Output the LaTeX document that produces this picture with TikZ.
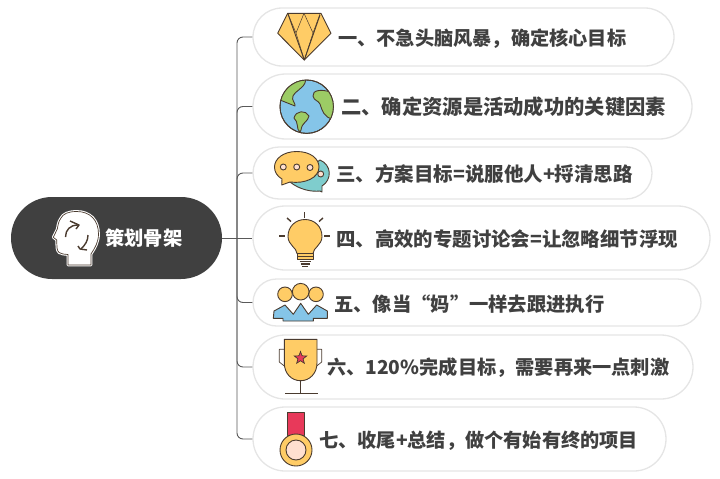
\documentclass[tikz,border=0pt]{standalone}
\usepackage{fontspec}
\setmainfont{Noto Sans CJK SC}
\usetikzlibrary{shapes.misc,shapes.geometric}
\definecolor{ink}{HTML}{4A3B2F}
\definecolor{gold}{HTML}{FFCC66}
\definecolor{sky}{HTML}{85C5E8}
\definecolor{leaf}{HTML}{9CCC65}
\definecolor{teal}{HTML}{7FCDCD}
\definecolor{rose}{HTML}{E8395A}
\definecolor{peach}{HTML}{FFE0D0}
\newcommand{\capsize}[1]{\fontsize{#1}{#1}\selectfont\bfseries}
\newcommand{\headpath}{(76.7,211.5) .. controls (68,211.5) and (63,214) .. (61,218) .. controls (58,222) and (58,226) .. (57.3,229) -- (53.3,237.3) -- (56.7,240) -- (57,248) .. controls (57.5,252) and (60,254) .. (63,254) -- (68,254.5) -- (68,265) -- (91,265) -- (91,254) .. controls (95,248) and (98.5,242) .. (98.5,234) .. controls (98.5,220) and (90,211.5) .. (76.7,211.5) -- cycle}
\begin{document}
\begin{tikzpicture}[x=1pt,y=-1pt]
\tikzstyle{pill}=[rounded rectangle, draw=black!10, line width=1.3pt, fill=white, inner sep=0pt]
\tikzstyle{caption}=[anchor=west, inner sep=0pt, text=black!75]
\tikzstyle{link}=[draw=black!65, line width=.9pt, rounded corners=6pt]
\tikzstyle{icon}=[draw=ink, line width=.9pt, line join=round]
\useasboundingbox (0,0) rectangle (720,479);
\node (root) at (116.5,238) [rounded rectangle, fill=black!75, minimum width=211pt, minimum height=82pt, inner sep=0pt] {};
\node (rootlabel) at (105,238) [anchor=west, inner sep=0pt, font=\capsize{19.3}, text=white] {策划骨架};
\node (v1) at (463.5,37) [pill, minimum width=421pt, minimum height=58pt] {};
\node (v2) at (472.5,106.5) [pill, minimum width=439pt, minimum height=65pt] {};
\node (v3) at (452.5,173) [pill, minimum width=399pt, minimum height=52pt] {};
\node (v4) at (481.5,238) [pill, minimum width=457pt, minimum height=64pt] {};
\node (v5) at (477,302.5) [pill, minimum width=448pt, minimum height=47pt] {};
\node (v6) at (473,367) [pill, minimum width=440pt, minimum height=64pt] {};
\node (v7) at (459.5,439) [pill, minimum width=413pt, minimum height=64pt] {};
\node (t1) at (338,38.5) [caption, font=\capsize{19.2}] {一、不急头脑风暴，确定核心目标};
\node (t2) at (341,106.5) [caption, font=\capsize{20.3}] {二、确定资源是活动成功的关键因素};
\node (t3) at (336,174) [caption, font=\capsize{19.5}] {三、方案目标=说服他人+捋清思路};
\node (t4) at (336,239.5) [caption, font=\capsize{19.4}] {四、高效的专题讨论会=让忽略细节浮现};
\node (t5) at (334,304) [caption, font=\capsize{19.3}] {五、像当“妈”一样去跟进执行};
\node (t6) at (327,368) [caption, font=\capsize{19.2}] {六、120\%完成目标，需要再来一点刺激};
\node (t7) at (319,441) [caption, font=\capsize{19.2}] {七、收尾+总结，做个有始有终的项目};
\coordinate (spine) at (237,238);
\draw [link] (root.east) -- (spine);
\draw [link] (spine) |- (v1.west);
\draw [link] (spine) |- (v2.west);
\draw [link] (spine) |- (v3.west);
\draw [link] (spine) -- (v4.west);
\draw [link] (spine) |- (v5.west);
\draw [link] (spine) |- (v6.west);
\draw [link] (spine) |- (v7.west);
% head
\draw [fill=white, draw=white, line width=2.8pt, line join=round] \headpath;
\draw [icon, fill=white, line width=.7pt] \headpath;
\draw [icon, line width=1.4pt] (65.5,237) .. controls (65.5,230) and (70,225) .. (78,225);
\draw [icon, line width=1.4pt] (70,221) -- (79,225) -- (76,229);
\draw [icon, line width=1.4pt] (88,235) .. controls (88,241) and (85,245) .. (81,249);
\draw [icon, line width=1.4pt] (78,246) -- (80,249) -- (87,250);
% diamond
\draw [icon, fill=gold] (287.7,13.3) -- (321,13.3) -- (331,33.3) -- (304.3,60) -- (277.7,33.3) -- cycle;
\draw [icon] (288,14) -- (304.3,60) -- (320,15);
\draw [icon, line width=.5pt] (288,14) -- (296,33) -- (304,13.3) -- (313,33) -- (320,14);
\draw [icon, line width=.5pt] (296,33) -- (304.3,60) -- (313,33);
% globe
\draw [icon, fill=sky] (306.7,106.7) circle (26.7);
\begin{scope}
\clip (306.7,106.7) circle (26.7);
\draw [icon, fill=leaf] (305,78) .. controls (308,86) and (296,90) .. (293,96) .. controls (291,100) and (296,104) .. (295,106) -- (280,100) -- (285,80) -- cycle;
\draw [icon, fill=leaf] (313,96) .. controls (312,90) and (322,89) .. (330,92) -- (338,110) -- (333,119) .. controls (324,118) and (322,110) .. (320,104) .. controls (318,100) and (314,101) .. (313,96) -- cycle;
\draw [icon, fill=leaf] (294,118) .. controls (296,110) and (306,110) .. (309,116) .. controls (308,122) and (302,122) .. (301,130) -- (300,132) .. controls (296,130) and (299,122) .. (294,118) -- cycle;
\end{scope}
\draw [icon] (306.7,106.7) circle (26.7);
% chat
\draw [icon, fill=teal] (290,182) .. controls (300,190) and (312,192) .. (320,191) -- (322,192) -- (322,186) .. controls (332,180) and (332,165) .. (320,160) -- cycle;
\draw [icon, fill=gold] (296.7,151.5) .. controls (311,151.5) and (319,159) .. (319,167) .. controls (319,178) and (305,184) .. (290,182) -- (281.7,185) -- (282,179) .. controls (277,176) and (274.5,172) .. (274.5,167) .. controls (274.5,159) and (283,151.5) .. (296.7,151.5) -- cycle;
\draw [icon, fill=peach] (283.3,167) circle (3);
\draw [icon, fill=peach] (296.7,167) circle (3);
\draw [icon, fill=peach] (310,167.5) circle (3);
\draw [icon, fill=peach] (320.7,174) circle (3);
% bulb
\draw [icon, fill=gold] (297,253.5) .. controls (297,248) and (288,245) .. (288,236.5) .. controls (288,226) and (296,219.5) .. (305,219.5) .. controls (314,219.5) and (322,226) .. (322,236.5) .. controls (322,245) and (313,248) .. (313,253.5) -- cycle;
\draw [icon, fill=gold] (297,253.5) rectangle (313,259.5);
\draw [icon] (297,256.5) -- (313,256.5);
\draw [icon, line width=1.1pt] (299.5,261.5) -- (310.5,261.5);
\draw [icon, line width=1.1pt] (300.5,264) -- (309.5,264);
\draw [icon, line width=1.1pt] (302,266.5) -- (308,266.5);
\draw [icon, line width=1.4pt] (304.5,212) -- (304.5,217.5);
\draw [icon, line width=1.4pt] (287,218) -- (291,221.5);
\draw [icon, line width=1.4pt] (323,218) -- (319,221.5);
\draw [icon, line width=1.4pt] (279,236) -- (285,236);
\draw [icon, line width=1.4pt] (324,236) -- (330,236);
% team
\draw [icon, fill=sky] (273.3,318.3) -- (274,311) -- (285,305) -- (293.3,314.3) -- (300.7,303.3) -- (308.3,314.3) -- (316.7,305) -- (327.3,311) -- (327.3,318.3) -- (313.3,318.3) -- (313.3,321) -- (283,321) -- (283,318.3) -- cycle;
\draw [icon, fill=gold] (285,294.3) circle (7.3);
\draw [icon, fill=gold] (316,294.3) circle (7.3);
\draw [icon, fill=gold] (300.7,291.7) circle (8.3);
% trophy
\draw [icon, line width=.7pt] (284.3,349.3) -- (279.3,349.3) -- (279.3,362) -- (288,369);
\draw [icon, line width=.7pt] (317,349.3) -- (321.7,349.3) -- (321.7,362) -- (313,369);
\draw [icon, fill=gold] (284.3,339.3) -- (317,339.3) -- (317,363) .. controls (317,373) and (310,380.7) .. (300.7,380.7) .. controls (291,380.7) and (284.3,373) .. (284.3,363) -- cycle;
\draw [icon] (300.7,380.7) -- (300.7,393.3);
\draw [icon] (285,393.3) -- (317.7,393.3);
\node (star) at (300.5,358) [star, star points=5, star point ratio=2.4, minimum size=13pt, inner sep=0pt, fill=rose, draw=ink, line width=.7pt] {};
% medal
\draw [icon, fill=rose] (287.3,412.3) rectangle (304,435);
\draw [icon, fill=gold] (296,450) circle (16);
\draw [icon, fill=peach] (296,450) circle (10);
\end{tikzpicture}
\end{document}
